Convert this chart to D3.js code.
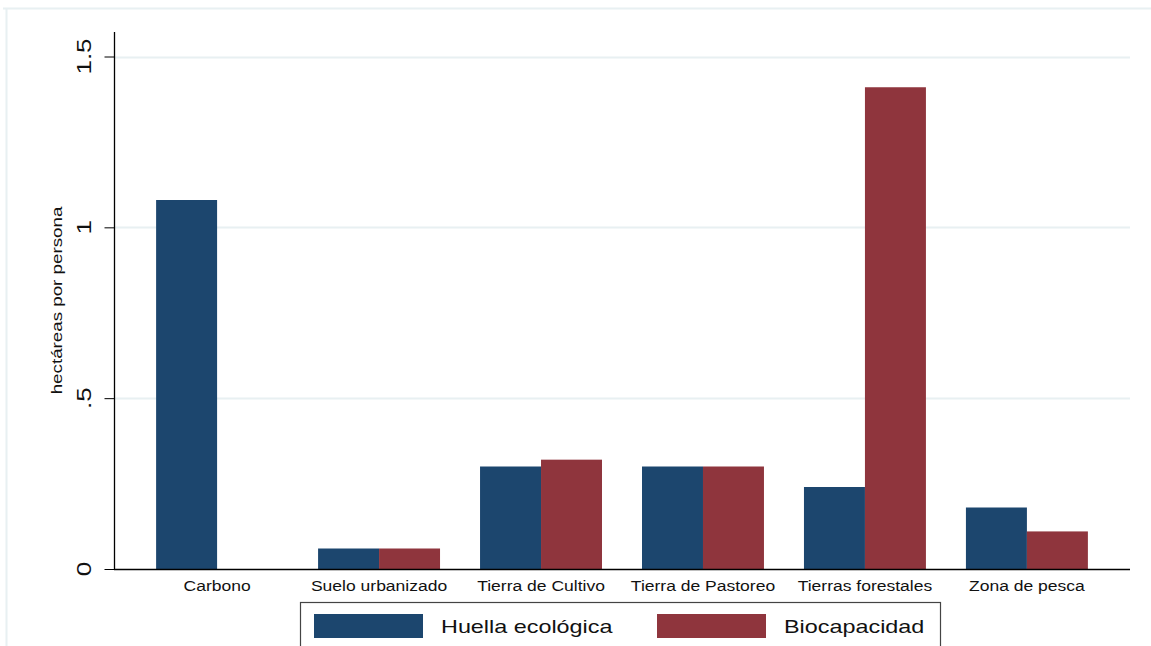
<!DOCTYPE html>
<html><head><meta charset="utf-8">
<script src="https://cdn.jsdelivr.net/npm/d3@7"></script>
<style>html,body{margin:0;padding:0;background:#fff;}svg{display:block;font-family:"Liberation Sans",Arial,sans-serif;}</style>
</head><body>
<script>
const categories = ["Carbono","Suelo urbanizado","Tierra de Cultivo","Tierra de Pastoreo","Tierras forestales","Zona de pesca"];
const huella = [1.08, 0.06, 0.30, 0.30, 0.24, 0.18];
const biocapacidad = [0, 0.06, 0.32, 0.30, 1.41, 0.11];
const seriesNames = ["Huella ecológica","Biocapacidad"];
const seriesColors = ["#1c466e","#8f353d"];
const yTicks = [0, 0.5, 1, 1.5];
const yTickLabels = ["0", ".5", "1", "1.5"];
const yTitle = "hectáreas por persona";

const W = 1151, H = 646;
const STRETCH = 1.25;
const svg = d3.select("body").append("svg").attr("width", W).attr("height", H);

function stretch(sel, f) {
  sel.each(function(){
    const len = this.getComputedTextLength();
    d3.select(this).attr("textLength", len*(f||STRETCH)).attr("lengthAdjust","spacingAndGlyphs");
  });
}

// outer graph region border
svg.append("line").attr("x1",3).attr("x2",W).attr("y1",8.5).attr("y2",8.5).attr("stroke","#e8f0f2").attr("stroke-width",2);
svg.append("line").attr("x1",6.5).attr("x2",6.5).attr("y1",8).attr("y2",H).attr("stroke","#e8f0f2").attr("stroke-width",2);

const plot = {left:114, right:1130, top:32, bottom:569};
const y = d3.scaleLinear().domain([0,1.5]).range([plot.bottom, 56.5]);
const x0 = d3.scaleBand().domain(categories).range([plot.left, plot.right]).paddingInner(0.247).paddingOuter(0.26);
const x1 = d3.scaleBand().domain(seriesNames).range([0, x0.bandwidth()]);

// gridlines
svg.append("g").selectAll("line").data(yTicks.filter(d=>d>0)).join("line")
  .attr("x1",plot.left).attr("x2",plot.right).attr("y1",d=>Math.round(y(d))+0.5).attr("y2",d=>Math.round(y(d))+0.5)
  .attr("stroke","#e8f0f2").attr("stroke-width",2);

// bars
const data = categories.map((c,i)=>({cat:c, vals:[huella[i], biocapacidad[i]]}));
const g = svg.append("g");
data.forEach(d=>{
  d.vals.forEach((v,j)=>{
    if (v<=0) return;
    g.append("rect").attr("x",x0(d.cat)+x1(seriesNames[j])).attr("width",x1.bandwidth())
      .attr("y",y(v)).attr("height",y(0)-y(v)).attr("fill",seriesColors[j]);
  });
});

// y axis
const yAxis = d3.axisLeft(y).tickValues(yTicks).tickFormat((d,i)=>yTickLabels[i]).tickSize(10).tickPadding(0);
const ya = svg.append("g").attr("transform",`translate(${plot.left+0.5},0)`).call(yAxis);
ya.select(".domain").remove();
ya.selectAll(".tick line").attr("stroke","#000");
ya.selectAll(".tick text").remove();
svg.append("line").attr("x1",plot.left+0.5).attr("x2",plot.left+0.5).attr("y1",plot.top).attr("y2",plot.bottom+1).attr("stroke","#000").attr("stroke-width",1.3);
yTicks.forEach((t,i)=>{
  const tx = svg.append("text").attr("transform",`translate(91,${y(t)}) rotate(-90)`).attr("text-anchor","middle")
    .attr("font-size",20).attr("fill","#111").text(yTickLabels[i]);
  stretch(tx, 1.3);
});
stretch(svg.append("text").attr("transform",`translate(62,${(plot.top+plot.bottom)/2}) rotate(-90)`).attr("text-anchor","middle")
  .attr("font-size",15).attr("fill","#111").text(yTitle));

// x axis
svg.append("line").attr("x1",plot.left).attr("x2",plot.right).attr("y1",plot.bottom+0.5).attr("y2",plot.bottom+0.5).attr("stroke","#000").attr("stroke-width",1.3);
const xAxis = d3.axisBottom(x0).tickSize(0).tickPadding(0);
const xa = svg.append("g").attr("transform",`translate(0,${plot.bottom})`).call(xAxis);
xa.select(".domain").remove();
xa.selectAll(".tick text").attr("y",22).attr("dy",0).attr("font-size",14).attr("fill","#111").attr("font-family","Liberation Sans, Arial, sans-serif");
stretch(xa.selectAll(".tick text"));

// legend
const lg = svg.append("g");
lg.append("rect").attr("x",300.5).attr("y",602.5).attr("width",640).attr("height",60).attr("fill","#fff").attr("stroke","#444").attr("stroke-width",1.2);
const legX = [314, 657];
seriesNames.forEach((s,j)=>{
  lg.append("rect").attr("x",legX[j]).attr("y",614).attr("width",109).attr("height",24).attr("fill",seriesColors[j]);
  stretch(lg.append("text").attr("x",legX[j]+127).attr("y",633).attr("font-size",19).attr("fill","#111").text(s), 1.23);
});
</script>
</body></html>
